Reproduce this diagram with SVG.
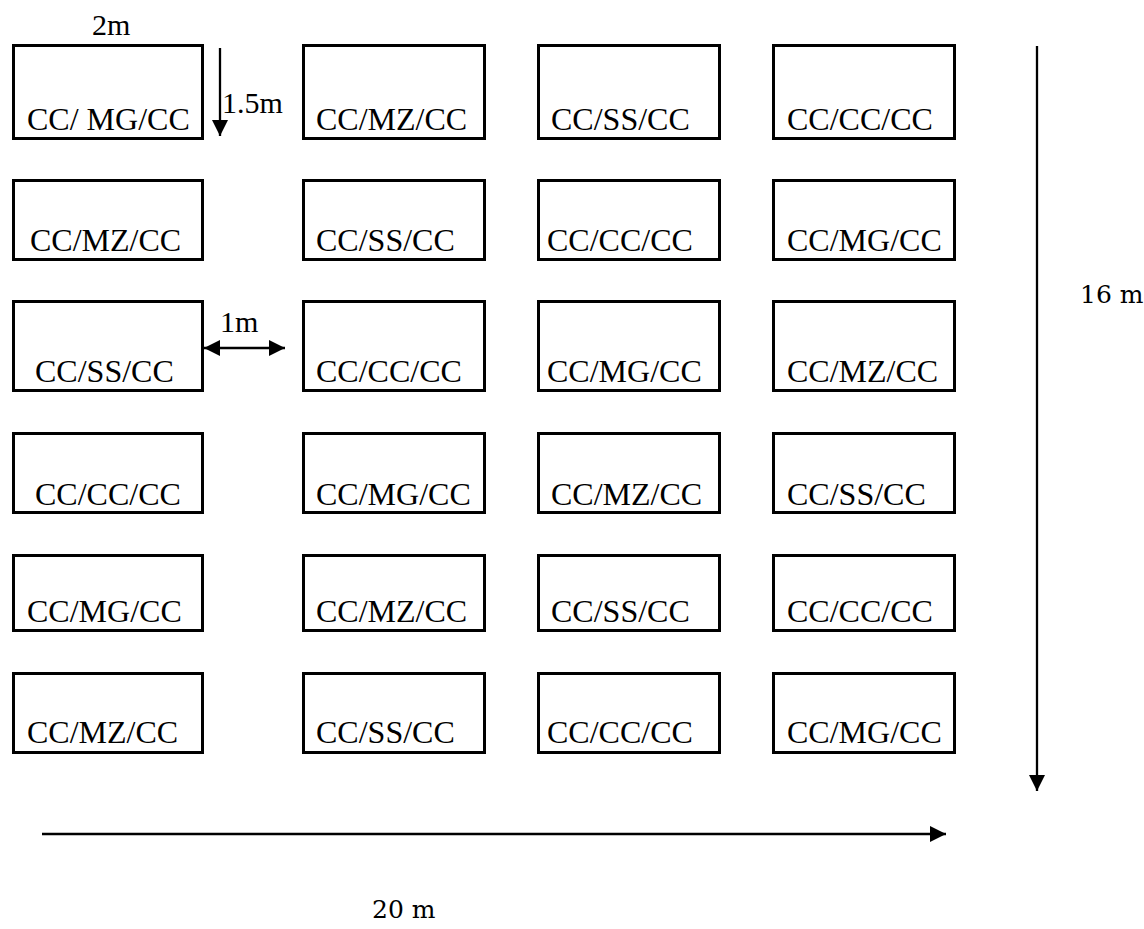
<svg xmlns="http://www.w3.org/2000/svg" width="1144" height="929" viewBox="0 0 1144 929">
<style>
.box{fill:#fff;stroke:#000;stroke-width:3}
.lbl{font-family:"Liberation Serif","Times New Roman",serif;font-size:32px;fill:#000}
.dim{font-family:"Liberation Serif","Times New Roman",serif;font-size:30px;fill:#000}
.dim2{font-family:"DejaVu Serif","Liberation Serif",serif;font-size:25px;fill:#000}
.arr{stroke:#000;stroke-width:2.3;fill:none}
</style>
<defs>
<marker id="ah" viewBox="0 0 16 16" refX="16" refY="8" markerWidth="16" markerHeight="16" markerUnits="userSpaceOnUse" orient="auto-start-reverse">
<path d="M0,0 L16,8 L0,16 z" fill="#000"/>
</marker>
</defs>
<rect width="1144" height="929" fill="#fff"/>
<g id="row1">
<g id="n11"><rect class="box" x="13.5" y="45.5" width="189" height="93"/><text class="lbl" x="27" y="130">CC/ MG/CC</text></g>
<g id="n12"><rect class="box" x="303.5" y="45.5" width="181" height="93"/><text class="lbl" x="316" y="130">CC/MZ/CC</text></g>
<g id="n13"><rect class="box" x="538.5" y="45.5" width="181" height="93"/><text class="lbl" x="551" y="130">CC/SS/CC</text></g>
<g id="n14"><rect class="box" x="773.5" y="45.5" width="181" height="93"/><text class="lbl" x="787" y="130">CC/CC/CC</text></g>
</g>
<g id="row2">
<g id="n21"><rect class="box" x="13.5" y="180.5" width="189" height="79"/><text class="lbl" x="30" y="251">CC/MZ/CC</text></g>
<g id="n22"><rect class="box" x="303.5" y="180.5" width="181" height="79"/><text class="lbl" x="316" y="251">CC/SS/CC</text></g>
<g id="n23"><rect class="box" x="538.5" y="180.5" width="181" height="79"/><text class="lbl" x="547" y="251">CC/CC/CC</text></g>
<g id="n24"><rect class="box" x="773.5" y="180.5" width="181" height="79"/><text class="lbl" x="787" y="251">CC/MG/CC</text></g>
</g>
<g id="row3">
<g id="n31"><rect class="box" x="13.5" y="301.5" width="189" height="89"/><text class="lbl" x="35" y="382">CC/SS/CC</text></g>
<g id="n32"><rect class="box" x="303.5" y="301.5" width="181" height="89"/><text class="lbl" x="316" y="382">CC/CC/CC</text></g>
<g id="n33"><rect class="box" x="538.5" y="301.5" width="181" height="89"/><text class="lbl" x="547" y="382">CC/MG/CC</text></g>
<g id="n34"><rect class="box" x="773.5" y="301.5" width="181" height="89"/><text class="lbl" x="787" y="382">CC/MZ/CC</text></g>
</g>
<g id="row4">
<g id="n41"><rect class="box" x="13.5" y="433.5" width="189" height="79"/><text class="lbl" x="35" y="505">CC/CC/CC</text></g>
<g id="n42"><rect class="box" x="303.5" y="433.5" width="181" height="79"/><text class="lbl" x="316" y="505">CC/MG/CC</text></g>
<g id="n43"><rect class="box" x="538.5" y="433.5" width="181" height="79"/><text class="lbl" x="551" y="505">CC/MZ/CC</text></g>
<g id="n44"><rect class="box" x="773.5" y="433.5" width="181" height="79"/><text class="lbl" x="787" y="505">CC/SS/CC</text></g>
</g>
<g id="row5">
<g id="n51"><rect class="box" x="13.5" y="555.5" width="189" height="75"/><text class="lbl" x="27" y="622">CC/MG/CC</text></g>
<g id="n52"><rect class="box" x="303.5" y="555.5" width="181" height="75"/><text class="lbl" x="316" y="622">CC/MZ/CC</text></g>
<g id="n53"><rect class="box" x="538.5" y="555.5" width="181" height="75"/><text class="lbl" x="551" y="622">CC/SS/CC</text></g>
<g id="n54"><rect class="box" x="773.5" y="555.5" width="181" height="75"/><text class="lbl" x="787" y="622">CC/CC/CC</text></g>
</g>
<g id="row6">
<g id="n61"><rect class="box" x="13.5" y="673.5" width="189" height="79"/><text class="lbl" x="27" y="743">CC/MZ/CC</text></g>
<g id="n62"><rect class="box" x="303.5" y="673.5" width="181" height="79"/><text class="lbl" x="316" y="743">CC/SS/CC</text></g>
<g id="n63"><rect class="box" x="538.5" y="673.5" width="181" height="79"/><text class="lbl" x="547" y="743">CC/CC/CC</text></g>
<g id="n64"><rect class="box" x="773.5" y="673.5" width="181" height="79"/><text class="lbl" x="787" y="743">CC/MG/CC</text></g>
</g>
<g id="connectors">
<line class="arr" x1="220" y1="48" x2="220" y2="136" marker-end="url(#ah)"/>
<line class="arr" x1="204" y1="348" x2="285" y2="348" marker-start="url(#ah)" marker-end="url(#ah)"/>
<line class="arr" x1="1037" y1="46" x2="1037" y2="791" marker-end="url(#ah)"/>
<line class="arr" x1="42" y1="834" x2="946" y2="834" marker-end="url(#ah)"/>
</g>
<g id="labels">
<text class="dim" x="92" y="35">2m</text>
<text class="dim" x="222" y="113">1.5m</text>
<text class="dim" x="220" y="332">1m</text>
<text class="dim2" x="1080" y="303">16 m</text>
<text class="dim2" x="372" y="918">20 m</text>
</g>
</svg>
